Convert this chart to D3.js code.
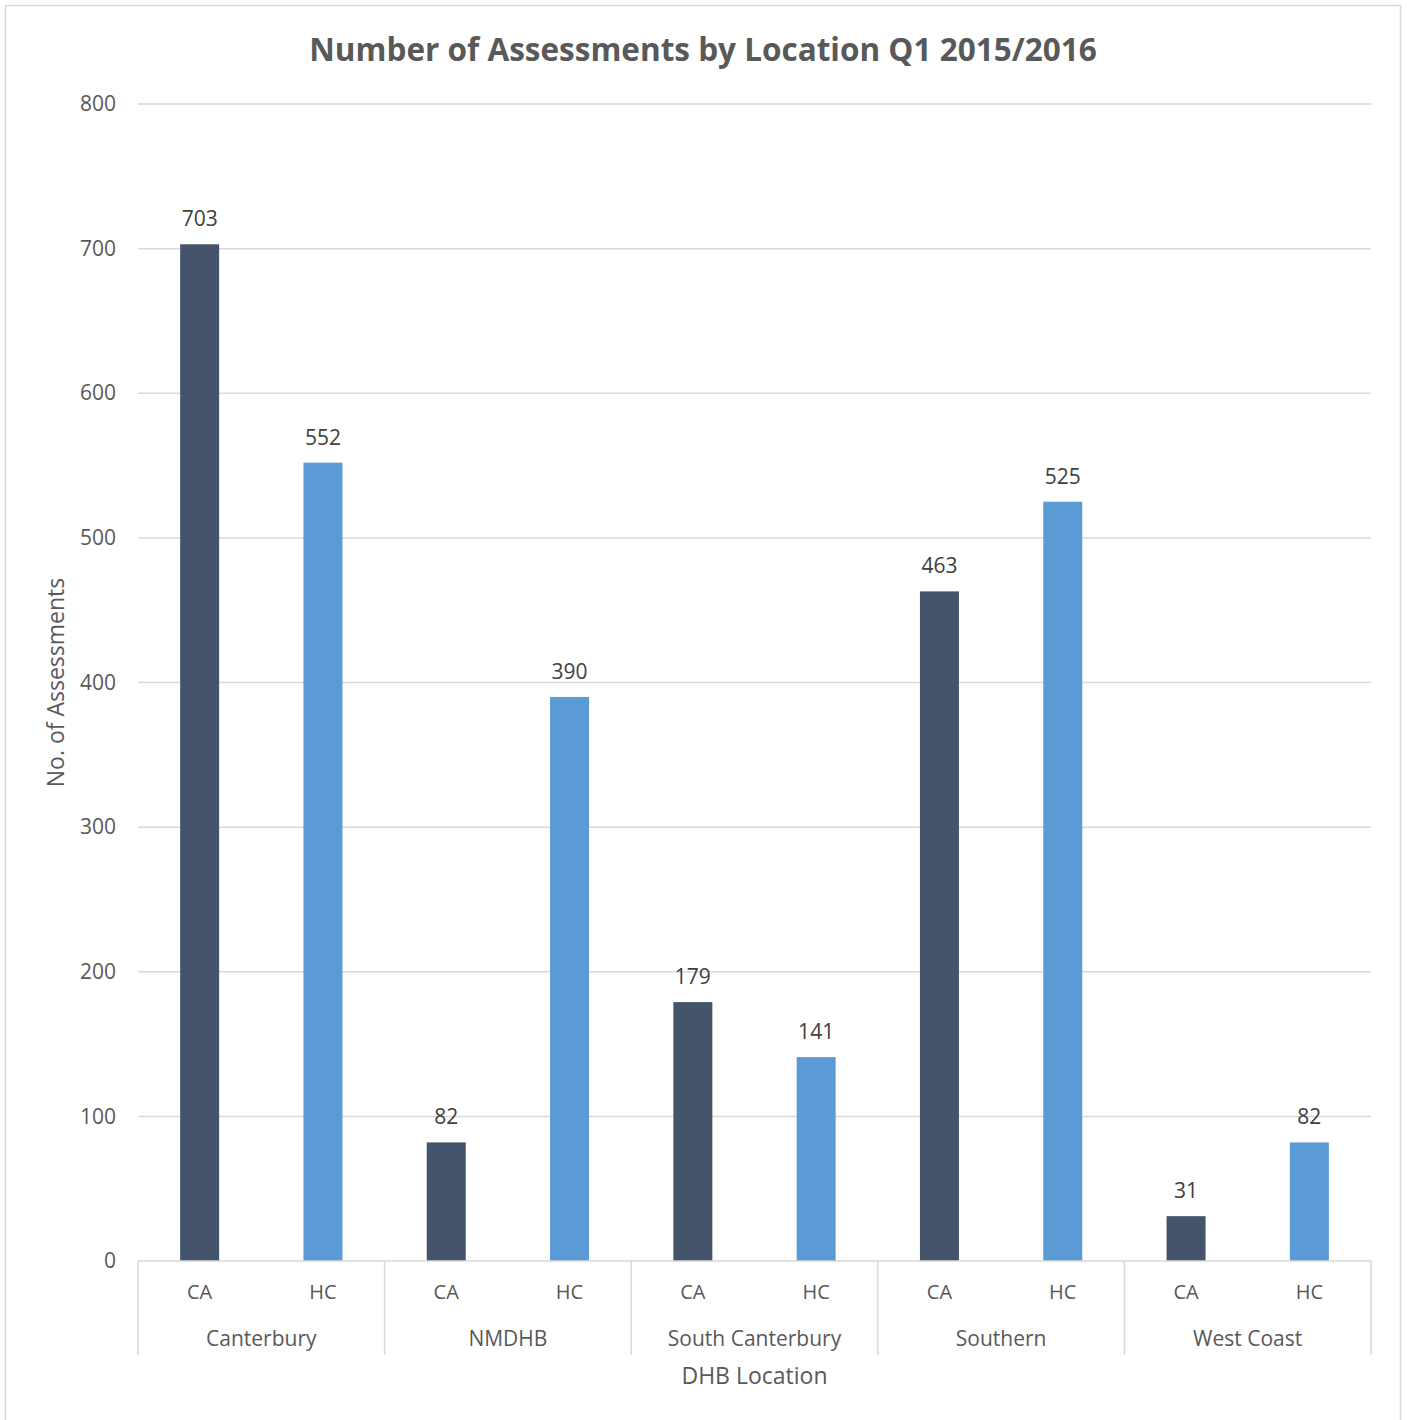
<!DOCTYPE html>
<html>
<head>
<meta charset="utf-8">
<script src="https://cdn.jsdelivr.net/npm/d3@7"></script>
<style>
  html, body { margin: 0; padding: 0; background: #fff; }
  svg { display: block; font-family: "Open Sans", "Noto Sans", sans-serif; }
</style>
</head>
<body>
<svg id="chart" width="1407" height="1420"></svg>
<script>
// Assessments per DHB location, split by assessment type
const locations = ["Canterbury", "NMDHB", "South Canterbury", "Southern", "West Coast"];
const types = ["CA", "HC"];
const caValues = [703, 82, 179, 463, 31];
const hcValues = [552, 390, 141, 525, 82];
const yTicks = [0, 100, 200, 300, 400, 500, 600, 700, 800];
const typeColors = { CA: "#44546A", HC: "#5B9BD5" };

const rows = locations.map((loc, i) => ({ loc, CA: caValues[i], HC: hcValues[i] }));

const svg = d3.select("#chart");
const W = 1407, H = 1420;
const m = { left: 138, right: 36, top: 104, bottom: 159 };
const plotW = W - m.left - m.right;
const plotH = H - m.top - m.bottom;

// chart border
svg.append("rect")
  .attr("x", 5.5).attr("y", 5.5)
  .attr("width", 1395).attr("height", 1420)
  .attr("fill", "#fff").attr("stroke", "#D9D9D9").attr("stroke-width", 1.5);

const x0 = d3.scaleBand().domain(locations).range([m.left, m.left + plotW]).padding(0);
const x1 = d3.scaleBand().domain(types).range([0, x0.bandwidth()]).padding(0);
const barW = 39;
const y = d3.scaleLinear().domain([0, 800]).range([m.top + plotH, m.top]);

// gridlines
svg.append("g")
  .selectAll("line").data(yTicks.filter(t => t > 0)).join("line")
  .attr("x1", m.left).attr("x2", m.left + plotW)
  .attr("y1", d => y(d)).attr("y2", d => y(d))
  .attr("stroke", "#D9D9D9").attr("stroke-width", 1.5);

// y-axis labels
const yAxis = d3.axisLeft(y).tickValues(yTicks).tickSize(0).tickPadding(22);
const gy = svg.append("g").attr("transform", `translate(${m.left},0)`).call(yAxis);
gy.select(".domain").remove();
gy.selectAll("text").attr("fill", "#595959").style("font-size", "21px").attr("font-family", "'Open Sans', sans-serif");

// bars
const groups = svg.append("g").selectAll("g").data(rows).join("g")
  .attr("transform", d => `translate(${x0(d.loc)},0)`);

groups.selectAll("rect").data(d => types.map(t => ({ t, v: d[t] }))).join("rect")
  .attr("x", d => x1(d.t) + x1.bandwidth() / 2 - barW / 2)
  .attr("width", barW)
  .attr("y", d => y(d.v))
  .attr("height", d => y(0) - y(d.v))
  .attr("fill", d => typeColors[d.t]);

groups.selectAll("text.val").data(d => types.map(t => ({ t, v: d[t] }))).join("text")
  .attr("class", "val")
  .attr("x", d => x1(d.t) + x1.bandwidth() / 2)
  .attr("y", d => y(d.v) - 18)
  .attr("text-anchor", "middle")
  .attr("fill", "#404040")
  .style("font-size", "21px")
  .text(d => d.v);

// baseline and category separators
const base = y(0);
svg.append("line")
  .attr("x1", m.left).attr("x2", m.left + plotW)
  .attr("y1", base).attr("y2", base)
  .attr("stroke", "#D9D9D9").attr("stroke-width", 1.5);

const seps = locations.map(l => x0(l)).concat([m.left + plotW]);
svg.append("g").selectAll("line").data(seps).join("line")
  .attr("x1", d => d).attr("x2", d => d)
  .attr("y1", base).attr("y2", base + 94)
  .attr("stroke", "#D9D9D9").attr("stroke-width", 1.5);

// type labels under each bar
groups.selectAll("text.type").data(types).join("text")
  .attr("class", "type")
  .attr("x", t => x1(t) + x1.bandwidth() / 2)
  .attr("y", base + 38)
  .attr("text-anchor", "middle")
  .attr("fill", "#595959")
  .style("font-size", "20px")
  .text(t => t);

// location labels
groups.append("text")
  .attr("x", x0.bandwidth() / 2)
  .attr("y", base + 85)
  .attr("text-anchor", "middle")
  .attr("fill", "#595959")
  .style("font-size", "21px")
  .text(d => d.loc);

// axis titles
svg.append("text")
  .attr("x", m.left + plotW / 2).attr("y", 1384)
  .attr("text-anchor", "middle").attr("fill", "#595959")
  .style("font-size", "23px")
  .text("DHB Location");

svg.append("text")
  .attr("transform", `translate(64,${y(400)}) rotate(-90)`)
  .attr("text-anchor", "middle").attr("fill", "#595959")
  .style("font-size", "23px")
  .text("No. of Assessments");

// title
svg.append("text")
  .attr("x", 703).attr("y", 61)
  .attr("text-anchor", "middle").attr("fill", "#595959")
  .style("font-size", "31.5px").style("font-weight", "bold")
  .text("Number of Assessments by Location Q1 2015/2016");
</script>
</body>
</html>
